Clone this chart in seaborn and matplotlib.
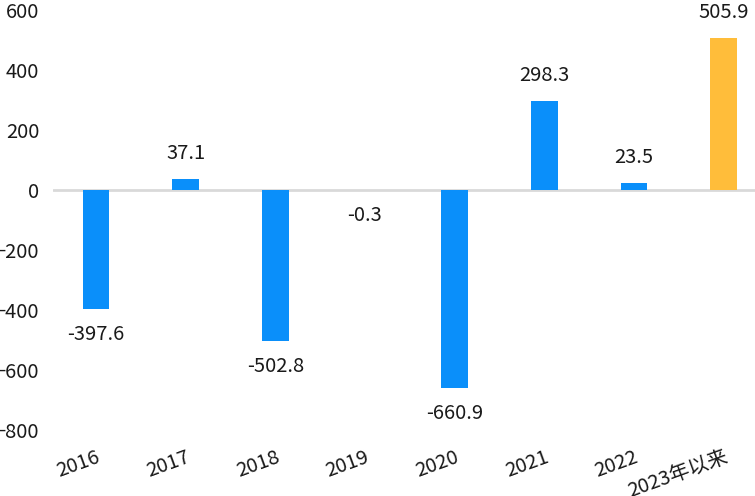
import matplotlib
matplotlib.use("Agg")
import matplotlib.pyplot as plt
import seaborn as sns
import pandas as pd

categories = ["2016", "2017", "2018", "2019", "2020", "2021", "2022", "2023年以来"]
values = [-397.6, 37.1, -502.8, -0.3, -660.9, 298.3, 23.5, 505.9]
colors = ["#0A8FFA"] * 7 + ["#FFBD3A"]

sns.set_style("white")
plt.rcParams['font.family'] = ['Noto Sans CJK SC', 'DejaVu Sans']

df = pd.DataFrame({"cat": categories, "val": values})

fig = plt.figure(figsize=(7.55, 4.96), dpi=100)
ax = fig.add_axes([53/755, 66/496, 702/755, 420/496])
sns.barplot(data=df, x="cat", y="val", hue="cat", palette=colors, legend=False,
            width=0.3, ax=ax, saturation=1, linewidth=0, edgecolor="none")

ax.set_ylim(-800, 600)
ax.set_xlim(-0.48, 7.35)
ax.set_yticks(range(-800, 601, 200))
ax.axhline(0, color="#D9D9D9", lw=2, zorder=0)
for s in ax.spines.values():
    s.set_visible(False)
ax.set_xlabel("")
ax.set_ylabel("")
ax.tick_params(axis="y", labelsize=14.5, colors="#1a1a1a", length=0, pad=10)
ax.tick_params(axis="x", labelsize=14.5, colors="#1a1a1a", length=0, pad=12)
for lbl in ax.get_xticklabels():
    lbl.set_rotation(20)
    lbl.set_ha("right")
    lbl.set_rotation_mode("anchor")

for i, v in enumerate(values):
    if v >= 0:
        ax.text(i, v + 50, f"{v:.1f}", ha="center", va="bottom", fontsize=14.5, color="#1a1a1a")
    else:
        ax.text(i, v - 50, f"{v:.1f}", ha="center", va="top", fontsize=14.5, color="#1a1a1a")

fig.savefig("out.png", dpi=100)
